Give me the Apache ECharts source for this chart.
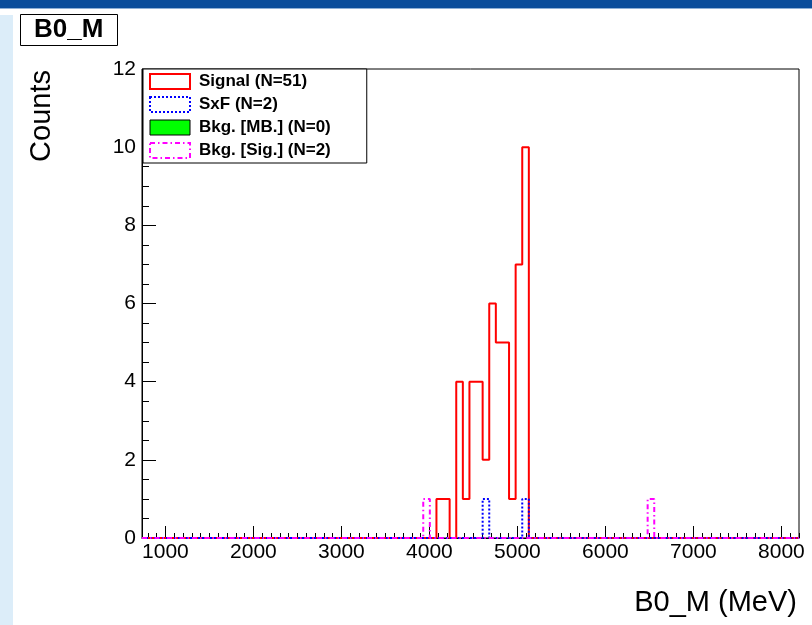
<!DOCTYPE html>
<html>
<head>
<meta charset="utf-8">
<title>B0_M</title>
<script src="https://cdn.jsdelivr.net/npm/echarts@6/dist/echarts.min.js"></script>
<style>
  body { margin: 0; background: #fff; }
  .page { position: relative; width: 812px; height: 625px; overflow: hidden; }
  .topbar { position: absolute; left: 0; top: 0; width: 812px; height: 8px; background: #0b4d9b; border-bottom: 1px solid #8fb0d6; }
  .side { position: absolute; left: 0; top: 15px; width: 13px; height: 610px; background: #dcedf9; }
  #chart { position: absolute; left: 0; top: 0; width: 812px; height: 625px; }
</style>
</head>
<body>
<div class="page">
  <div class="topbar"></div>
  <div class="side"></div>
  <div id="chart"></div>
</div>
<script>
// axis range (MeV)
var xMin = 734;
var xMax = 8200;
var yTicks = [0, 2, 4, 6, 8, 10, 12];

// histograms: bin edges and the counts between them
var signalEdges = [4080, 4230, 4305, 4380, 4455, 4605, 4680, 4755, 4905, 4980, 5055, 5130];
var signalCounts = [1, 0, 4, 1, 4, 2, 6, 5, 1, 7, 10];
var sxfEdges = [4605, 4680, 5055, 5130];
var sxfCounts = [1, 0, 1];
var bkgMbEdges = [];
var bkgMbCounts = [];
var bkgSigEdges = [3930, 4005, 6480, 6555];
var bkgSigCounts = [1, 0, 1];

var names = ['Signal (N=51)', 'SxF (N=2)', 'Bkg. [MB.] (N=0)', 'Bkg. [Sig.] (N=2)'];

// outline points for a step line, zero outside the filled bins
function histPoints(edges, counts) {
  if (!edges.length) return [];
  var pts = [[xMin, 0]];
  edges.forEach(function (e, i) {
    pts.push([e, i < counts.length ? counts[i] : 0]);
  });
  pts.push([xMax, 0]);
  return pts;
}

var font = 'Liberation Sans, Arial, Helvetica, sans-serif';
var chart = echarts.init(document.getElementById('chart'));

function histSeries(name, edges, counts, color, dash) {
  return {
    name: name,
    type: 'line',
    step: 'end',
    xAxisIndex: 0,
    data: histPoints(edges, counts),
    showSymbol: false,
    clip: false,
    lineStyle: { color: color, width: 2, type: dash },
    itemStyle: { color: color },
    emphasis: { disabled: true }
  };
}

chart.setOption({
  animation: false,
  backgroundColor: 'transparent',
  title: {
    text: 'B0_M',
    left: 20,
    top: 14,
    padding: [3, 14, 3, 14],
    backgroundColor: '#fff',
    borderColor: '#000',
    borderWidth: 1,
    textStyle: { fontFamily: 'Liberation Sans Narrow, ' + font, fontWeight: 'bold', fontSize: 26, color: '#000' }
  },
  legend: {
    orient: 'vertical',
    left: 143,
    top: 69,
    itemWidth: 40,
    itemHeight: 15,
    itemGap: 6,
    padding: [4, 36, 4, 6],
    backgroundColor: '#fff',
    borderColor: '#000',
    borderWidth: 1,
    borderRadius: 0,
    selectedMode: false,
    textStyle: { fontFamily: font, fontWeight: 'bold', fontSize: 17, color: '#000', padding: [0, 0, 0, 4] },
    data: [
      { name: names[0], icon: 'rect', itemStyle: { color: '#fff', borderColor: '#ff0000', borderWidth: 2 } },
      { name: names[1], icon: 'rect', itemStyle: { color: '#fff', borderColor: '#0000ff', borderWidth: 2, borderType: 'dotted' } },
      { name: names[2], icon: 'rect', itemStyle: { color: '#00ff00', borderColor: '#000', borderWidth: 1 } },
      { name: names[3], icon: 'rect', itemStyle: { color: '#fff', borderColor: '#ff00ff', borderWidth: 2, borderType: [5, 3, 1.5, 3] } }
    ]
  },
  grid: {
    left: 142,
    top: 69,
    right: 13,
    bottom: 87,
    show: true,
    borderColor: '#000',
    borderWidth: 1,
    backgroundColor: 'transparent',
    containLabel: false,
    outerBoundsMode: 'none'
  },
  xAxis: [{
    type: 'value',
    min: xMin,
    max: xMax,
    splitNumber: 7,
    minInterval: 1000,
    maxInterval: 1000,
    position: 'bottom',
    name: 'B0_M (MeV)',
    nameLocation: 'end',
    nameGap: -2,
    nameMoveOverlap: false,
    nameTextStyle: { fontFamily: font, fontSize: 29, color: '#000', align: 'right', verticalAlign: 'top', padding: [50, 0, 0, 0] },
    axisLine: { show: true, lineStyle: { color: '#000', width: 1 } },
    axisTick: { show: true, inside: true, length: 12, lineStyle: { color: '#000' } },
    axisLabel: {
      fontFamily: font, fontSize: 21, color: '#000', margin: 4,
      showMinLabel: false, showMaxLabel: false,
      formatter: function (v) { return String(v); }
    },
    splitLine: { show: false }
  }, {
    // minor ticks every 100 MeV
    type: 'value',
    min: xMin,
    max: xMax,
    splitNumber: 75,
    minInterval: 100,
    maxInterval: 100,
    position: 'bottom',
    axisLine: { show: false },
    axisTick: { show: true, inside: true, length: 5, lineStyle: { color: '#000' } },
    axisLabel: { show: false },
    splitLine: { show: false }
  }],
  yAxis: {
    type: 'value',
    min: yTicks[0],
    max: yTicks[yTicks.length - 1],
    interval: yTicks[1] - yTicks[0],
    name: 'Counts',
    nameLocation: 'end',
    nameRotate: 90,
    nameGap: -1,
    nameMoveOverlap: false,
    nameTextStyle: { fontFamily: font, fontSize: 29, color: '#000', align: 'right', verticalAlign: 'bottom', padding: [0, 0, 86, 0] },
    axisLine: { show: true, lineStyle: { color: '#000', width: 1 } },
    axisTick: { show: true, inside: true, length: 14, lineStyle: { color: '#000' } },
    minorTick: { show: true, splitNumber: 4, length: 7, lineStyle: { color: '#000' } },
    axisLabel: { fontFamily: font, fontSize: 21, color: '#000', margin: 6 },
    splitLine: { show: false },
    minorSplitLine: { show: false }
  },
  series: [
    histSeries(names[0], signalEdges, signalCounts, '#ff0000', 'solid'),
    histSeries(names[1], sxfEdges, sxfCounts, '#0000ff', 'dotted'),
    histSeries(names[2], bkgMbEdges, bkgMbCounts, '#00ff00', 'solid'),
    histSeries(names[3], bkgSigEdges, bkgSigCounts, '#ff00ff', [5, 3, 1.5, 3])
  ]
});
</script>
</body>
</html>
